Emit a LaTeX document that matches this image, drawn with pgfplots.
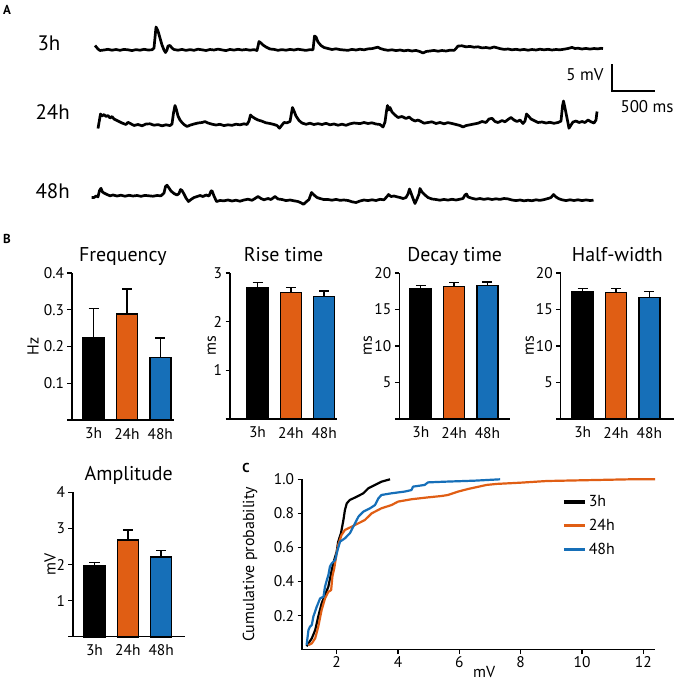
\documentclass[border=0pt]{standalone}
\usepackage{pgfplots}
\pgfplotsset{compat=1.18}
\usepackage{fontspec}
\setmainfont{PT Sans}
\definecolor{c24}{RGB}{224,94,20}
\definecolor{c48}{RGB}{22,111,184}
\newcommand{\fs}[1]{\fontsize{#1}{#1}\selectfont}
\pgfplotsset{
  barax/.style={
    scale only axis, clip=false,
    axis lines*=left,
    axis line style={line width=1.4bp, black},
    ymin=0,
    xtick={1,2,3}, xticklabels={3h,24h,48h},
    xtick style={draw=none},
    ytick style={line width=1.4bp, black},
    tick align=outside, major tick length=4.5bp,
    ticklabel style={font=\fs{15.5}},
    /pgf/number format/assume math mode=true,
    title style={font=\fs{20}, anchor=base, at={(0.5,1)}, yshift=6bp},
    ylabel style={font=\fs{16}, anchor=center},
    ybar, bar width=21bp, bar shift=0pt,
    error bars/y dir=plus, error bars/y explicit,
    error bars/error bar style={line width=1.4bp, black},
    error bars/error mark options={rotate=90, line width=1.4bp, black, mark size=5bp},
  },
  bb/.style={draw=black, line width=1.6bp, fill=#1},
}
\begin{document}
\begin{tikzpicture}
\path[use as bounding box] (0bp,0bp) rectangle (675bp,-684bp);
% ---------------- Panel A: traces (pixel coordinates) ----------------
\begin{axis}[scale only axis, at={(0bp,0bp)}, anchor=north west,
  width=675bp, height=230bp, xmin=0, xmax=675, ymin=0, ymax=230,
  y dir=reverse, hide axis, clip=false]
\addplot[black, line width=2.7bp, line join=round] coordinates {
(95,45.5)(98,49)(100,50.5)(104,50)(108,49.3)(112,50.2)(116,49.5)(120,50.3)(124,49.4)(128,49.8)(132,50.6)(136,49.6)(140,50.2)(144,49.3)(148,50)(152,49.8)(154,48)(156,27)(158,31)(160,38)(162,45)(164,50)(165.5,52.5)(167,50)(168,46)(170,45.5)(172,48)(174,49.5)(178,50.2)(182,49.4)(186,50.4)(190,49.6)(194,50.3)(198,49.2)(202,49.8)(206,50.5)(210,49.5)(214,50)(218,49.1)(222,49.9)(226,50.6)(230,49.4)(234,50.1)(238,49.3)(242,50)(246,49.5)(250,50.2)(254,49.6)(257,50.5)(258.5,44)(259,41.5)(261,43)(263,45)(266,47)(270,49)(274,49.4)(278,50.3)(282,49.6)(286,50.2)(290,49.4)(294,50)(298,49.2)(302,49.8)(306,50.4)(310,49.6)(313,49.8)(314.5,36)(316,37)(318,42)(321,45.5)(324,47.5)(328,48.5)(332,49.5)(336,48.8)(340,49.6)(344,50)
(348,50.3)(352,49.4)(356,50)(360,49.2)(364,49.8)(368,48.9)(372,48.6)(376,47.6)(378,47.2)(380,48.4)(384,49.6)(388,50.3)(392,49.8)(396,50.6)(400,50)(404,50.8)(408,50.2)(412,51)(416,50.4)(420,51.6)(423,53)(426,51.5)(430,51)(434,50.4)(438,51.2)(442,50.5)(446,51)(450,50.2)(454,50.4)(456,48.5)(458,46)(462,45.8)(466,46.8)(470,46.4)(474,47.2)(478,46.8)(482,47.9)(486,47.5)(490,48.2)(494,47)(496,47.5)(500,48.6)(504,49.4)(508,49)(512,49.8)(516,49.3)(520,50)(524,49.4)(528,50.2)(532,49.5)(536,50)(540,49.2)(544,49.8)(548,49.3)(552,50)(556,49.5)(560,49.8)(564,49.2)(568,48.5)(572,47.4)(575,48.5)(578,48.2)(582,49)(586,48.4)(590,49.1)(594,48.5)(598,48.9)(601,48.3)(603,48.6)
};
\addplot[black, line width=2.7bp, line join=round] coordinates {
(98,128.5)(100.5,114)(102,116)(104,114.5)(106,116.5)(108,115.5)(110,118)(112,116.5)(114,119)(116,120)(119,121.5)(122,123)(126,124.5)(128,122.3)(130,123.3)(134,125.5)(138,124.5)(142,125.8)(146,124)(150,123.8)(154,125.2)(158,124.6)(162,125.8)(166,124.8)(170,125.6)(172,124)(173.5,113)(175,105.5)(176.5,110)(178,116)(180,120)(182,122.5)(184,124.5)(187,126.5)(190,125.2)(194,124)(198,123)(202,122.5)(205,121.6)(208,123)(212,124.2)(216,125)(220,124.3)(224,125.6)(228,124.8)(232,125.3)(236,124.2)(240,124.8)(244,123.8)(247,124.5)(249,121)(250.5,115)(252,116.5)(255,118.5)(258,120)(262,121.2)(266,122.8)(270,123.5)(274,124.5)(277,125.5)(279.5,128.2)(282,125)(284,122.5)(287,122.8)(290,121.5)(291.5,113)(292.5,107.5)(294,111)(296,116)(299,120.5)(302,123)(306,124.3)(310,123.2)(314,124.5)(318,123.6)(322,124.5)(326,123.3)(330,124.8)(334,124)(338,125.2)(342,124.2)(346,125.3)
(350,123.8)(354,123)(360,123.6)(364,122.5)(368,123.5)(372,122.8)(376,124)(380,124.5)(383,127)(385,122)(386.5,111)(387.5,105.5)(389,110)(390,107.5)(392,112)(395,115)(398,117.5)(402,116.5)(406,118.5)(409,117)(412,119.5)(415,121)(418,120)(421,121.5)(424,123.2)(428,122.5)(432,121.8)(436,123.5)(440,122.5)(444,123.8)(448,122.6)(452,123.5)(456,124.5)(460,125.5)(463,127)(466,125.6)(470,124.8)(474,124)(478,123.2)(482,121.5)(486,122.5)(489,119)(492,118.3)(495,121.5)(498,122.5)(502,120.5)(505,121.8)(508,119.5)(511,117.5)(514,120)(517,121.5)(520,120)(523,123.5)(525,121)(526.5,114)(528,115.5)(531,119)(534,120.5)(538,122.5)(542,122)(546,123)(550,122.3)(554,123.3)(558,122.5)(561,121)(562.5,106)(563.5,101)(565,108)(567,118)(569,128.2)(571,125)(573,122)(576,121)(579,122.5)(582,121.5)(585,122.5)(588,120)(591,121.8)(594,123)(596,120)(597,111.5)
};
\addplot[black, line width=2.7bp, line join=round] coordinates {
(91.5,197.5)(94,197.5)(96,196)(98,196.8)(99.5,190.5)(101,188.3)(102.5,192)(104,193)(107,194.5)(110,195.8)(113,195)(117,196)(121,195.2)(125,196.2)(129,195.3)(133,196)(137,195.5)(141,196.3)(145,195.4)(149,195.8)(153,196.2)(157,195.5)(161,195.8)(164,193)(165.5,186.5)(167,185.2)(169,188)(171,191)(174,193.5)(177,195)(179,193.5)(180.5,189.5)(182,190.5)(184,194)(186,198)(188.5,201.5)(191,199.5)(194,197.5)(197,196.5)(200,195.5)(203,196.5)(206,195)(209,196)(211,191)(212,190.8)(214,196)(216.5,201.5)(220,200.5)(224,200.8)(228,200)(232,201)(236,200.2)(240,201.2)(244,200)(248,199.2)(252,200.3)(255,198.5)(258,196.5)(261,198.5)(264,199.8)(268,198.5)(271,199.5)(275,196.5)(278,199)(282,199.5)(286,200.6)(290,200)(294,200.8)(298,201.5)(301,202.8)(303.5,204.3)(306,202)(309,199.5)(311.5,192.5)(314,195)(317,197.5)(320,198.5)(324,199.6)(328,199.5)(332,200.2)(336,199.4)(340,200.3)
(344,200)(348,200.5)(352,201.8)(356,202.5)(360,201)(364,200)(368,200.6)(372,199.8)(376,200.5)(380,199.3)(384,199.8)(387,196.5)(388.5,194.5)(391,196.5)(394,196)(397,196.8)(400,197.5)(403,198.5)(406,197.5)(408,194)(409.5,189)(411,193)(413,198.5)(415,203.5)(417,199)(419,194)(420,188.5)(422,192)(425,195)(428,197.5)(432,199)(436,199.5)(440,200.2)(444,199.4)(448,200.1)(452,199.3)(456,200)(460,199.2)(463,198.5)(465,195)(466.5,194)(468,197)(472,198.3)(476,199.2)(480,198.5)(484,199.4)(488,198.6)(492,199.5)(496,198.8)(500,199.4)(504,198.5)(508,198.9)(512,200)(516,200.6)(520,200)(524,200.8)(528,200.2)(532,200.7)(536,199.8)(540,200.4)(544,199.6)(548,198.5)(551,197.5)(553.5,194.5)(556,197)(559,198.8)(562,199.8)(566,200.6)(570,199.8)(574,200.5)(578,199.8)(582,200.6)(586,199.9)(590,200.5)(593.5,200.2)
};
% scale bar: 5 mV, 500 ms
\addplot[black, line width=2bp] coordinates {(612,64) (612,91) (655,91)};
\node[anchor=east, font=\fs{17}] at (axis cs:607,75) {5 mV};
\node[anchor=west, font=\fs{17}] at (axis cs:617,107) {500 ms};
\node[anchor=west, font=\fs{21}] at (axis cs:34,43) {3h};
\node[anchor=west, font=\fs{21}] at (axis cs:32,112) {24h};
\node[anchor=west, font=\fs{21}] at (axis cs:32,191) {48h};
\node[font=\fs{13}\bfseries] at (axis cs:7,10) {A};
\node[font=\fs{13}\bfseries] at (axis cs:7,239) {B};
\node[font=\fs{13}\bfseries] at (axis cs:246,468) {C};
\end{axis}
% ---------------- Panel B ----------------
\begin{axis}[barax, at={(72bp,-420bp)}, anchor=south west,
  width=101.6bp, height=147bp, xmin=0.35, xmax=3.4, ymax=0.4,
  ytick={0,0.1,0.2,0.3,0.4}, yticklabels={,0.1,0.2,0.3,0.4},
  title={Frequency}, ylabel={Hz},
  ylabel style={at={(axis description cs:-0.384,0.5)}}]
\addplot[bb=black] coordinates {(1,0.225) +- (0,0.079)};
\addplot[bb=c24] coordinates {(2,0.289) +- (0,0.067)};
\addplot[bb=c48] coordinates {(3,0.170) +- (0,0.053)};
\end{axis}
\begin{axis}[barax, at={(230bp,-419bp)}, anchor=south west,
  width=107.2bp, height=146bp, xmin=0.175, xmax=3.39, ymax=3,
  ytick={0,1,2,3}, yticklabels={,1,2,3},
  title={Rise time}, ylabel={ms},
  ylabel style={at={(axis description cs:-0.168,0.5)}}]
\addplot[bb=black] coordinates {(1,2.70) +- (0,0.11)};
\addplot[bb=c24] coordinates {(2,2.60) +- (0,0.10)};
\addplot[bb=c48] coordinates {(3,2.52) +- (0,0.11)};
\end{axis}
\begin{axis}[barax, at={(399.3bp,-419bp)}, anchor=south west,
  width=110.8bp, height=146bp, xmin=0.355, xmax=3.68, ymax=20,
  ytick={0,5,10,15,20}, yticklabels={,5,10,15,20},
  title={Decay time}, ylabel={ms},
  ylabel style={at={(axis description cs:-0.283,0.5)}}]
\addplot[bb=black] coordinates {(1,17.80) +- (0,0.46)};
\addplot[bb=c24] coordinates {(2,18.17) +- (0,0.50)};
\addplot[bb=c48] coordinates {(3,18.30) +- (0,0.46)};
\end{axis}
\begin{axis}[barax, at={(560.7bp,-419bp)}, anchor=south west,
  width=113.3bp, height=146bp, xmin=0.34, xmax=3.74, ymax=20,
  ytick={0,5,10,15,20}, yticklabels={,5,10,15,20},
  title={Half-width}, ylabel={ms},
  ylabel style={at={(axis description cs:-0.271,0.5)}}]
\addplot[bb=black] coordinates {(1,17.40) +- (0,0.50)};
\addplot[bb=c24] coordinates {(2,17.35) +- (0,0.55)};
\addplot[bb=c48] coordinates {(3,16.66) +- (0,0.84)};
\end{axis}
\begin{axis}[barax, at={(73bp,-636.7bp)}, anchor=south west,
  width=111.5bp, height=144.4bp, xmin=0.355, xmax=3.7, ymax=4,
  ytick={0,1,2,3,4}, yticklabels={,1,2,3,4},
  title={Amplitude}, ylabel={mV},
  ylabel style={at={(axis description cs:-0.206,0.5)}}]
\addplot[bb=black] coordinates {(1,1.96) +- (0,0.10)};
\addplot[bb=c24] coordinates {(2,2.68) +- (0,0.28)};
\addplot[bb=c48] coordinates {(3,2.21) +- (0,0.18)};
\end{axis}
% ---------------- Panel C ----------------
\begin{axis}[scale only axis, clip=false, at={(302bp,-649.7bp)}, anchor=south west,
  width=353bp, height=170.4bp, xmin=0.87, xmax=12.38, ymin=0, ymax=1,
  axis lines*=left,
  axis line style={line width=1.4bp, black},
  tick style={line width=1.4bp, black},
  tick align=outside, major tick length=4.5bp,
  xtick={2,4,6,8,10,12},
  ytick={0.2,0.4,0.6,0.8,1.0}, yticklabels={0.2,0.4,0.6,0.8,1.0},
  ticklabel style={font=\fs{15.5}},
  xticklabel style={yshift=1bp},
  /pgf/number format/assume math mode=true,
  xlabel={mV}, ylabel={Cumulative probability},
  xlabel style={font=\fs{16}, at={(axis description cs:0.516,-0.13)}, anchor=center},
  ylabel style={font=\fs{16}, at={(axis description cs:-0.147,0.5)}, anchor=center},
  legend style={draw=none, fill=none, font=\fs{16}, at={(axis description cs:0.728,0.93)},
    anchor=north west, row sep=7bp},
  legend cell align=left,
  legend image code/.code={\draw[#1, line width=3.6bp] (0bp,0bp) -- (21bp,0bp);},
  ]
\addplot[black, line width=2.2bp, line join=round] coordinates {
(1.02,0.02)(1.19,0.067)(1.30,0.115)(1.40,0.194)(1.51,0.272)(1.62,0.321)(1.73,0.37)(1.84,0.468)(1.92,0.526)(2.0,0.575)(2.05,0.634)(2.14,0.683)(2.22,0.761)(2.27,0.82)(2.33,0.859)(2.43,0.879)(2.54,0.888)(2.70,0.902)(2.87,0.918)(3.03,0.947)(3.25,0.967)(3.46,0.986)(3.74,1.0)};
\addlegendentry{3h}
\addplot[c24, line width=2.2bp, line join=round] coordinates {
(1.08,0.027)(1.19,0.037)(1.30,0.067)(1.40,0.135)(1.51,0.233)(1.62,0.301)(1.73,0.34)(1.82,0.35)(1.86,0.429)(1.92,0.477)(2.0,0.566)(2.05,0.614)(2.16,0.673)(2.27,0.703)(2.49,0.722)(2.71,0.742)(2.92,0.761)(3.14,0.80)(3.46,0.83)(3.79,0.849)(4.0,0.869)(4.44,0.883)(4.98,0.894)(5.42,0.902)(5.63,0.908)(5.96,0.928)(6.28,0.943)(6.89,0.967)(7.22,0.973)(7.98,0.98)(8.85,0.99)(9.93,0.994)(11.57,1.0)(12.38,1.0)};
\addlegendentry{24h}
\addplot[c48, line width=2.2bp, line join=round] coordinates {
(1.02,0.027)(1.08,0.115)(1.13,0.135)(1.19,0.145)(1.24,0.194)(1.35,0.252)(1.46,0.301)(1.57,0.311)(1.62,0.37)(1.68,0.409)(1.73,0.438)(1.78,0.487)(1.84,0.507)(1.95,0.526)(2.03,0.585)(2.11,0.634)(2.27,0.654)(2.43,0.683)(2.6,0.742)(2.71,0.781)(2.87,0.81)(3.09,0.83)(3.25,0.849)(3.36,0.888)(3.46,0.908)(3.79,0.918)(4.22,0.928)(4.44,0.937)(4.49,0.957)(4.87,0.967)(4.98,0.982)(5.52,0.986)(6.5,0.992)(7.33,1.0)};
\addlegendentry{48h}
\end{axis}
\end{tikzpicture}
\end{document}
